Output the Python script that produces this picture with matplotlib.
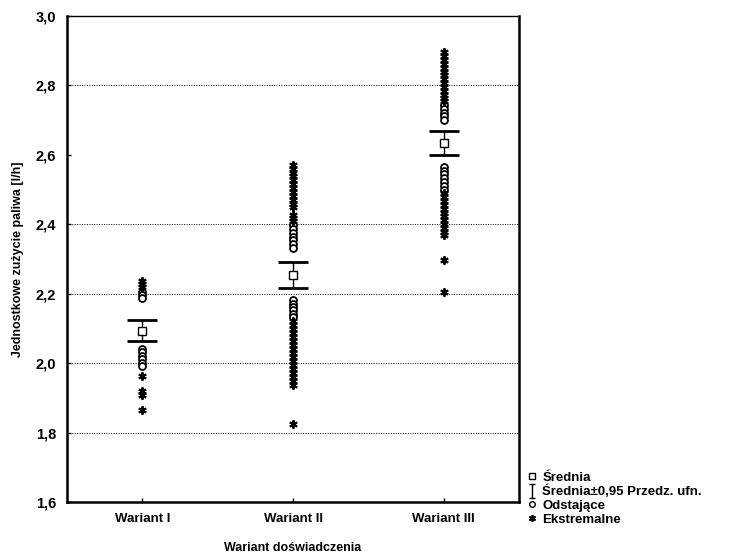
import matplotlib.pyplot as plt
from matplotlib.lines import Line2D
from matplotlib.path import Path
import numpy as np

plt.rcParams['font.family'] = ['Liberation Sans', 'DejaVu Sans']
plt.rcParams['font.weight'] = 'bold'

# -- Data -- #
categories = ['Wariant I', 'Wariant II', 'Wariant III']
means = [2.094, 2.254, 2.634]
ci_low = [2.064, 2.216, 2.600]
ci_high = [2.124, 2.292, 2.669]

outliers = [
	[2.205, 2.196, 2.187, 2.041, 2.032, 2.022, 2.012, 2.001, 1.991],
	[2.398, 2.387, 2.376, 2.365, 2.354, 2.343, 2.333,
	 2.181, 2.172, 2.163, 2.153, 2.143, 2.134],
	[2.744, 2.733, 2.722, 2.711, 2.700,
	 2.566, 2.555, 2.544, 2.533, 2.522, 2.511, 2.500],
]
extremes = [
	[2.236, 2.228, 2.219, 1.964, 1.921, 1.908, 1.866],
	[2.570, 2.560, 2.549, 2.538, 2.527, 2.516, 2.504, 2.493, 2.482, 2.471,
	 2.460, 2.449, 2.428, 2.418, 2.409,
	 2.122, 2.110, 2.098, 2.086, 2.075, 2.064, 2.052, 2.040, 2.029, 2.018,
	 2.006, 1.995, 1.984, 1.972, 1.960, 1.948, 1.937, 1.826],
	[2.895, 2.884, 2.873, 2.862, 2.851, 2.840, 2.829, 2.818, 2.807, 2.796,
	 2.785, 2.774, 2.763, 2.754,
	 2.489, 2.478, 2.467, 2.456, 2.445, 2.434, 2.423, 2.412, 2.401, 2.390,
	 2.379, 2.368, 2.298, 2.205],
]
grid_levels = [1.8, 2.0, 2.2, 2.4, 2.8]
y_ticks = [1.6, 1.8, 2.0, 2.2, 2.4, 2.6, 2.8, 3.0]

fig = plt.figure(figsize=(7.29, 5.53), dpi=100)
ax = fig.add_axes([0.092, 0.092, 0.62, 0.879])

x = np.arange(1, len(categories) + 1)

for g in grid_levels:
	ax.axhline(g, color='black', linestyle=(0, (1, 1.5)), linewidth=0.7, zorder=0)

star = (6, 2, 0)
for i, xi in enumerate(x):
	ax.plot([xi] * len(outliers[i]), outliers[i], 'o', mfc='white', mec='black',
			ms=5, mew=1.3, zorder=3)
	ax.plot([xi] * len(extremes[i]), extremes[i], marker=star, linestyle='none',
			color='black', ms=6, mew=1.4, zorder=3)

err = [np.array(means) - np.array(ci_low), np.array(ci_high) - np.array(means)]
ax.errorbar(x, means, yerr=err, fmt='none', ecolor='black', elinewidth=1,
			capsize=11, capthick=2, zorder=4)
ax.plot(x, means, 's', mfc='white', mec='black', ms=6, mew=1, zorder=5)

ax.set_xlim(0.5, 3.5)
ax.set_ylim(1.6, 3.0)
ax.set_xticks(x)
ax.set_xticklabels(categories, fontsize=9.5, fontweight='bold')
ax.set_yticks(y_ticks)
ax.set_yticklabels(['{:.1f}'.format(v).replace('.', ',') for v in y_ticks],
				   fontsize=10.5, fontweight='bold')
ax.tick_params(direction='in', length=3, width=1, pad=8)
ax.set_xlabel('Wariant doświadczenia', fontsize=9, fontweight='bold', labelpad=12)
ax.set_ylabel('Jednostkowe zużycie paliwa [l/h]', fontsize=9, fontweight='bold',
			  labelpad=8)
for side in ['left', 'bottom', 'right']:
	ax.spines[side].set_linewidth(1.8)
ax.spines['top'].set_linewidth(1.0)

# -- Legend outside the axes -- #
ibar = Path([(-0.5, 1), (0.5, 1), (0, 1), (0, -1), (-0.5, -1), (0.5, -1)],
			[Path.MOVETO, Path.LINETO, Path.MOVETO, Path.LINETO, Path.MOVETO, Path.LINETO])
handles = [
	Line2D([], [], marker='s', linestyle='none', mfc='white', mec='black', ms=5),
	Line2D([], [], marker=ibar, linestyle='none', mfc='none', mec='black', ms=10, mew=1),
	Line2D([], [], marker='o', linestyle='none', mfc='white', mec='black', ms=4),
	Line2D([], [], marker=star, linestyle='none', color='black', ms=5, mew=1.2),
]
labels = ['Średnia', 'Średnia±0,95 Przedz. ufn.', 'Odstające', 'Ekstremalne']
fig.legend(handles, labels, loc='lower left', bbox_to_anchor=(0.715, 0.04),
		   frameon=False, fontsize=9.5, handlelength=0.8, handletextpad=0.4,
		   labelspacing=0.1, borderaxespad=0)

fig.savefig('out.png', dpi=100)
